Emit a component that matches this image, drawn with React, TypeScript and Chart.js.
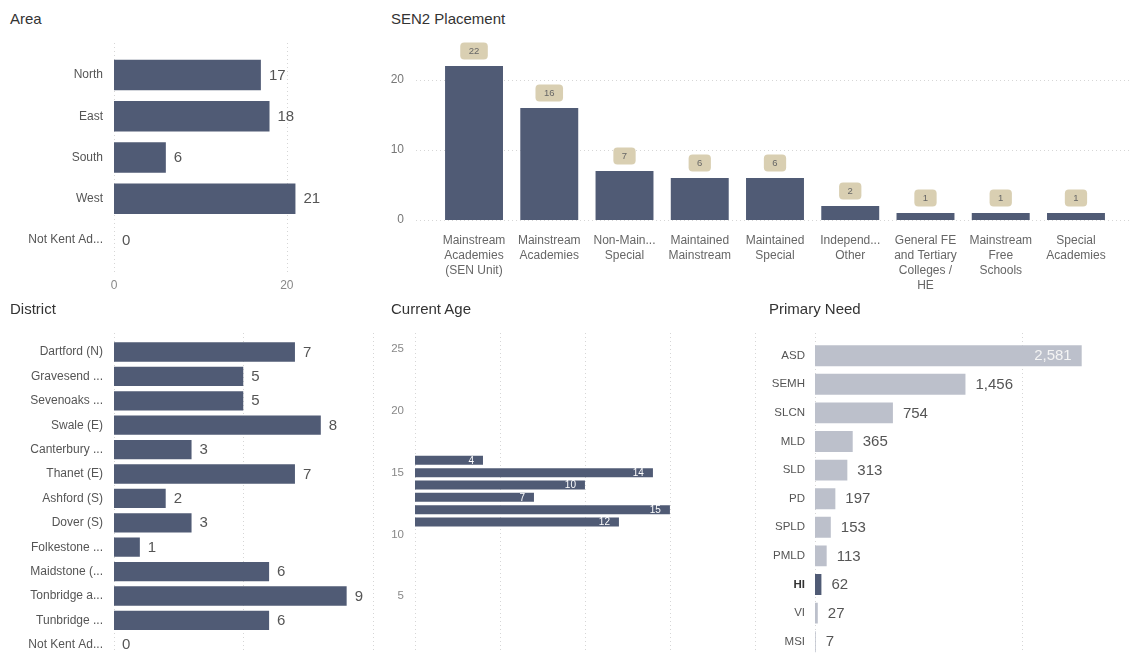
import React, { useEffect, useRef } from 'react';
import { Chart, registerables } from 'chart.js';
Chart.register(...registerables);

const FONT = '"Liberation Sans", Arial, sans-serif';
Chart.defaults.font.family = FONT;

const BAR = '#505b75';
const LIGHT = '#bcc0cb';
const GRID = '#d6d6d6';

// ---- data ----
const areaLabels = ['North', 'East', 'South', 'West', 'Not Kent Ad...'];
const areaValues = [17, 18, 6, 21, 0];
const areaTicks = [0, 20];

const placementLabels = [
  ['Mainstream', 'Academies', '(SEN Unit)'],
  ['Mainstream', 'Academies'],
  ['Non-Main...', 'Special'],
  ['Maintained', 'Mainstream'],
  ['Maintained', 'Special'],
  ['Independ...', 'Other'],
  ['General FE', 'and Tertiary', 'Colleges /', 'HE'],
  ['Mainstream', 'Free', 'Schools'],
  ['Special', 'Academies'],
];
const placementValues = [22, 16, 7, 6, 6, 2, 1, 1, 1];
const placementTicks = [0, 10, 20];

const districtLabels = [
  'Dartford (N)', 'Gravesend ...', 'Sevenoaks ...', 'Swale (E)', 'Canterbury ...',
  'Thanet (E)', 'Ashford (S)', 'Dover (S)', 'Folkestone ...', 'Maidstone (...',
  'Tonbridge a...', 'Tunbridge ...', 'Not Kent Ad...',
];
const districtValues = [7, 5, 5, 8, 3, 7, 2, 3, 1, 6, 9, 6, 0];
const districtTicks = [0, 5, 10];

const ageYears = [16, 15, 14, 13, 12, 11];
const ageCounts = [4, 14, 10, 7, 15, 12];
const ageYTicks = [0, 5, 10, 15, 20, 25];
const ageXTicks = [0, 5, 10, 15, 20];

const needLabels = ['ASD', 'SEMH', 'SLCN', 'MLD', 'SLD', 'PD', 'SPLD', 'PMLD', 'HI', 'VI', 'MSI'];
const needValues = [2581, 1456, 754, 365, 313, 197, 153, 113, 62, 27, 7];
const needHighlight = 'HI';
const needTicks = [0, 2000];

// ---- helpers ----
const fmt = (v: number) => String(v).replace(/\B(?=(\d{3})+(?!\d))/g, ',');

function setTicks(values: number[]) {
  return (s: any) => {
    s.ticks = values.map((value) => ({ value }));
  };
}

function zeroPad(s: any) {
  s.paddingTop = 0;
  s.paddingBottom = 0;
  s.paddingLeft = 0;
  s.paddingRight = 0;
}
const fixW = (w: number) => (s: any) => { s.width = w; zeroPad(s); };
const fixH = (h: number) => (s: any) => { s.height = h; zeroPad(s); };

function dotGrid(cfg: { axis: 'x' | 'y'; from: number; to: number }) {
  return {
    id: 'dotGrid',
    beforeDatasetsDraw(chart: any) {
      const ctx = chart.ctx;
      const scale = chart.scales[cfg.axis];
      ctx.save();
      ctx.strokeStyle = GRID;
      ctx.lineWidth = 1;
      ctx.setLineDash([1, 3]);
      for (const t of scale.ticks) {
        const p = Math.round(scale.getPixelForValue(t.value)) + 0.5;
        ctx.beginPath();
        if (cfg.axis === 'x') {
          ctx.moveTo(p, cfg.from);
          ctx.lineTo(p, cfg.to);
        } else {
          ctx.moveTo(cfg.from, p);
          ctx.lineTo(cfg.to, p);
        }
        ctx.stroke();
      }
      ctx.restore();
    },
  };
}

function valueLabels(cfg: any) {
  return {
    id: 'valueLabels',
    afterDatasetsDraw(chart: any) {
      const ctx = chart.ctx;
      const ds = chart.data.datasets[0];
      const meta = chart.getDatasetMeta(0);
      ctx.save();
      ctx.font = `${cfg.size}px ${FONT}`;
      ctx.textBaseline = 'middle';
      meta.data.forEach((el: any, i: number) => {
        const raw: any = ds.data[i];
        const v = typeof raw === 'number' ? raw : raw.x;
        const text = fmt(v);
        if (cfg.mode === 'badge') {
          const w = ctx.measureText(text).width + 2 * cfg.padX;
          const h = cfg.h;
          const bx = el.x - w / 2;
          const by = el.y - cfg.gap - h;
          ctx.fillStyle = cfg.bg;
          ctx.beginPath();
          ctx.roundRect(bx, by, w, h, cfg.r);
          ctx.fill();
          ctx.fillStyle = cfg.color;
          ctx.textAlign = 'center';
          ctx.fillText(text, el.x, by + h / 2 + 0.5);
        } else {
          const inside = cfg.mode === 'inside' || (cfg.insideIdx && cfg.insideIdx.includes(i));
          if (inside) {
            ctx.textAlign = 'right';
            ctx.fillStyle = cfg.insideColor;
            ctx.fillText(text, el.x - cfg.insideGap, el.y + 0.5);
          } else {
            ctx.textAlign = 'left';
            ctx.fillStyle = cfg.color;
            ctx.fillText(text, el.x + cfg.gap, el.y + 0.5);
          }
        }
      });
      ctx.restore();
    },
  };
}

const hidden = { display: false, drawTicks: false };
const noBorder = { display: false };

function baseOptions(padding: any) {
  return {
    responsive: false,
    animation: false,
    events: [],
    layout: { padding, autoPadding: false },
    plugins: { legend: { display: false }, tooltip: { enabled: false }, title: { display: false } },
  };
}

// ---- chart configs ----
function areaConfig(): any {
  return {
    type: 'bar',
    data: {
      labels: areaLabels,
      datasets: [{ data: areaValues, backgroundColor: BAR, barPercentage: 0.74, categoryPercentage: 1 }],
    },
    options: {
      ...baseOptions({ left: 0, right: 45, top: 14.5, bottom: 0 }),
      indexAxis: 'y',
      scales: {
        x: {
          min: 0, max: 25, grid: hidden, border: noBorder,
          afterBuildTicks: setTicks(areaTicks),
          ticks: { padding: 17.5, color: '#888', font: { size: 12 } },
          afterFit: fixH(49.5),
        },
        y: {
          grid: hidden, border: noBorder,
          ticks: { padding: 11, color: '#555', font: { size: 12 } },
          afterFit: fixW(114),
        },
      },
    },
    plugins: [
      dotGrid({ axis: 'x', from: 3, to: 232 }),
      valueLabels({ size: 15, color: '#555', gap: 8 }),
    ],
  };
}

function placementConfig(): any {
  return {
    type: 'bar',
    data: {
      labels: placementLabels,
      datasets: [{ data: placementValues, backgroundColor: BAR, barPercentage: 0.77, categoryPercentage: 1 }],
    },
    options: {
      ...baseOptions({ left: 0, right: 17.4, top: 15, bottom: 0 }),
      scales: {
        x: {
          grid: hidden, border: noBorder,
          ticks: { padding: 13, color: '#666', font: { size: 12, lineHeight: 1.25 }, autoSkip: false, maxRotation: 0, minRotation: 0 },
          afterFit: fixH(80),
        },
        y: {
          min: 0, max: 25, grid: hidden, border: noBorder,
          afterBuildTicks: setTicks(placementTicks),
          ticks: { padding: 32.4, color: '#777', font: { size: 12 } },
          afterFit: fixW(56.4),
        },
      },
    },
    plugins: [
      dotGrid({ axis: 'y', from: 36, to: 751 }),
      valueLabels({ mode: 'badge', size: 9.5, color: '#666', bg: '#d9cfb2', padX: 8.5, h: 17, r: 4, gap: 6.5 }),
    ],
  };
}

function districtConfig(): any {
  return {
    type: 'bar',
    data: {
      labels: districtLabels,
      datasets: [{ data: districtValues, backgroundColor: BAR, barPercentage: 0.79, categoryPercentage: 1 }],
    },
    options: {
      ...baseOptions({ left: 0, right: 0, top: 14.8, bottom: 0 }),
      indexAxis: 'y',
      scales: {
        x: {
          min: 0, max: 10.29, grid: hidden, border: noBorder,
          afterBuildTicks: setTicks(districtTicks),
          ticks: { padding: 10, color: '#888', font: { size: 12 } },
          afterFit: fixH(28),
        },
        y: {
          grid: hidden, border: noBorder,
          ticks: { padding: 11, color: '#555', font: { size: 12 }, autoSkip: false },
          afterFit: fixW(114),
        },
      },
    },
    plugins: [
      dotGrid({ axis: 'x', from: 8, to: 360 }),
      valueLabels({ size: 15, color: '#555', gap: 8 }),
    ],
  };
}

function ageConfig(): any {
  return {
    type: 'bar',
    data: {
      datasets: [{
        data: ageYears.map((y, i) => ({ x: ageCounts[i], y })),
        backgroundColor: BAR,
        barPercentage: 0.73,
        categoryPercentage: 1,
      }],
    },
    options: {
      ...baseOptions({ left: 0, right: 0, top: 8, bottom: 0 }),
      indexAxis: 'y',
      scales: {
        x: {
          type: 'linear', min: 0, max: 20.3, grid: hidden, border: noBorder,
          afterBuildTicks: setTicks(ageXTicks),
          ticks: { padding: 10, color: '#888', font: { size: 12 } },
          afterFit: fixH(27),
        },
        y: {
          type: 'linear', min: 0, max: 26.3, offset: false, grid: { display: false, drawTicks: false, offset: false }, border: noBorder,
          afterBuildTicks: setTicks(ageYTicks),
          ticks: { padding: 11, color: '#888', font: { size: 11.5 } },
          afterFit: fixW(35),
        },
      },
    },
    plugins: [
      dotGrid({ axis: 'x', from: 8, to: 360 }),
      valueLabels({ mode: 'inside', size: 10, insideColor: '#ffffff', insideGap: 9 }),
    ],
  };
}

function needConfig(): any {
  return {
    type: 'bar',
    data: {
      labels: needLabels,
      datasets: [{
        data: needValues,
        backgroundColor: needLabels.map((l) => (l === needHighlight ? BAR : LIGHT)),
        barPercentage: 0.73,
        categoryPercentage: 1,
      }],
    },
    options: {
      ...baseOptions({ left: 0, right: 6, top: 16.4, bottom: 0 }),
      indexAxis: 'y',
      scales: {
        x: {
          min: 0, max: 3000, grid: hidden, border: noBorder,
          afterBuildTicks: setTicks(needTicks),
          ticks: { padding: 10, color: '#888', font: { size: 12 } },
          afterFit: fixH(29),
        },
        y: {
          grid: hidden, border: noBorder,
          ticks: {
            padding: 10,
            autoSkip: false,
            color: (c: any) => (needLabels[c.index] === needHighlight ? '#333' : '#555'),
            font: (c: any) => ({ size: 11.5, weight: needLabels[c.index] === needHighlight ? 'bold' : 'normal' }),
          },
          afterFit: fixW(55),
        },
      },
    },
    plugins: [
      dotGrid({ axis: 'x', from: 8, to: 360 }),
      valueLabels({ size: 15, color: '#555', gap: 10, insideIdx: [0], insideColor: '#f4f4f4', insideGap: 10 }),
    ],
  };
}

// ---- components ----
function ChartBox(props: { left: number; top: number; width: number; height: number; config: () => any }) {
  const ref = useRef<HTMLCanvasElement>(null);
  useEffect(() => {
    const chart = new Chart(ref.current as HTMLCanvasElement, props.config());
    return () => chart.destroy();
  }, []);
  return (
    <canvas
      ref={ref}
      width={props.width}
      height={props.height}
      style={{ position: 'absolute', left: props.left, top: props.top, width: props.width, height: props.height }}
    />
  );
}

function Title(props: { left: number; top: number; text: string }) {
  return (
    <div
      style={{
        position: 'absolute', left: props.left, top: props.top,
        font: `15px ${FONT}`, color: '#333', lineHeight: '17px', whiteSpace: 'nowrap',
      }}
    >
      {props.text}
    </div>
  );
}

export default function App() {
  return (
    <div style={{ position: 'fixed', left: 0, top: 0, width: 1131, height: 653, overflow: 'hidden', background: '#fff' }}>
      <ChartBox left={0} top={40} width={375} height={270} config={areaConfig} />
      <ChartBox left={380} top={30} width={751} height={270} config={placementConfig} />
      <ChartBox left={0} top={325} width={380} height={360} config={districtConfig} />
      <ChartBox left={380} top={325} width={380} height={360} config={ageConfig} />
      <ChartBox left={760} top={325} width={371} height={360} config={needConfig} />
      <Title left={10} top={10} text="Area" />
      <Title left={391} top={10} text="SEN2 Placement" />
      <Title left={10} top={300} text="District" />
      <Title left={391} top={300} text="Current Age" />
      <Title left={769} top={300} text="Primary Need" />
    </div>
  );
}
